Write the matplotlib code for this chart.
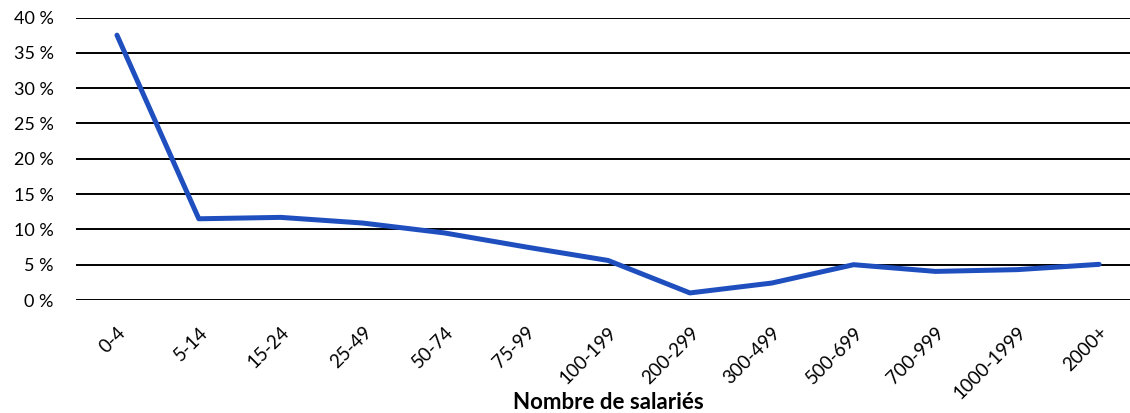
from matplotlib import pyplot as plt
from matplotlib.ticker import FuncFormatter

plt.rc('font', family=['Lato', 'DejaVu Sans'], size=13)

# Share of firms by workforce size class
categories = ['0-4', '5-14', '15-24', '25-49', '50-74', '75-99', '100-199',
              '200-299', '300-499', '500-699', '700-999', '1000-1999', '2000+']
shares = [37.5, 11.5, 11.7, 10.9, 9.5, 7.5, 5.6,
          1.0, 2.4, 5.0, 4.05, 4.3, 5.05]
yticks = [0, 5, 10, 15, 20, 25, 30, 35, 40]

fig = plt.figure(figsize=(11.30, 4.13), dpi=100)
ax = fig.add_axes([0.0673, 0.2736, 0.9416, 0.684])

x = list(range(len(categories)))
ax.plot(x, shares, color='#1f4fbf', linewidth=3.6, solid_capstyle='round',
        zorder=3)

ax.set_xlim(-0.5, len(categories) - 0.5)
ax.set_ylim(0, 40)
ax.set_yticks(yticks)
ax.yaxis.set_major_formatter(FuncFormatter(lambda v, p: '{:.0f} %'.format(v)))
ax.grid(axis='y', color='black', linewidth=1.4, zorder=1)
ax.set_axisbelow(True)

ax.set_xticks(x)
ax.set_xticklabels(categories, rotation=45, ha='right', rotation_mode='anchor',
                   fontsize=13.5)
ax.tick_params(axis='x', length=0, pad=17)
ax.tick_params(axis='y', length=0, pad=16)
for s in ax.spines.values():
    s.set_visible(False)

# x label placed by hand so the long rotated ticks do not push it off the figure
fig.text(0.538, 0.025, 'Nombre de salariés', fontweight='bold', fontsize=16,
         ha='center', va='center')

plt.savefig('out.png', dpi=100)
